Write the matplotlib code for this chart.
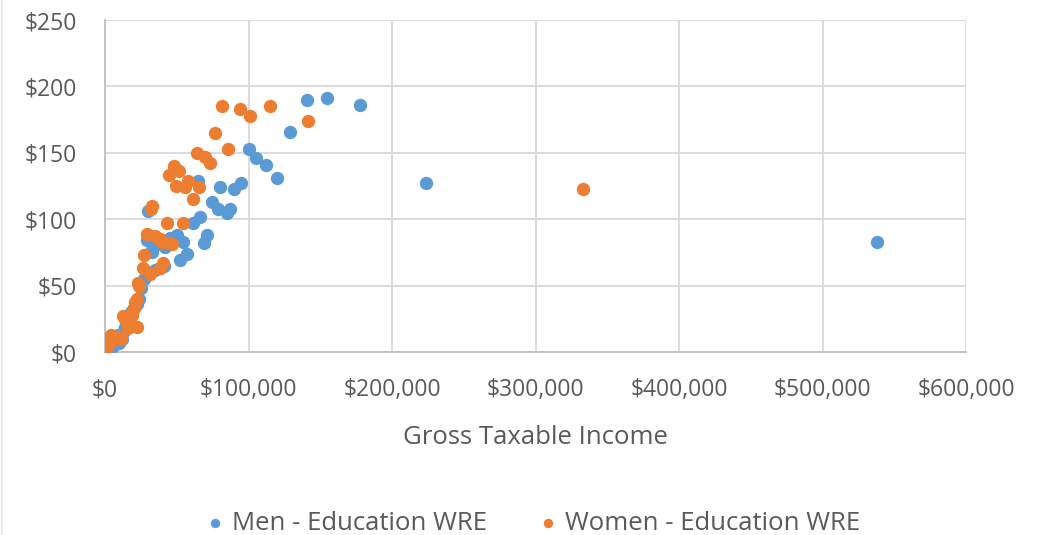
import matplotlib
matplotlib.use("Agg")
import matplotlib.pyplot as plt
from matplotlib.ticker import FuncFormatter

# Gross taxable income vs. weekly education WRE
men_income = [538000, 224000, 178000, 155000, 141000, 129000, 120000, 112000, 105000,
              100000, 95000, 90000, 80000, 87000, 85000, 79000, 74500, 71000, 69000,
              66000, 65000, 61000, 57000, 52000, 54000, 48000, 50000, 30000, 29000,
              33000, 36000, 39000, 42000, 45000, 35000, 38000, 41000, 33000, 25000,
              24000, 22000, 18000, 16000, 13000, 12000, 9000, 6000, 4000, 2000, 1500,
              7000, 10000, 14000, 20000, 27000]
men_wre = [83, 127, 186, 191, 190, 166, 131, 141, 146,
           153, 127, 123, 124, 108, 105, 108, 113, 88, 82,
           102, 129, 97, 74, 69, 83, 85, 88, 106, 84,
           77, 83, 81, 79, 86, 62, 63, 65, 75, 48,
           40, 36, 30, 24, 16, 10, 13, 5, 3, 2, 6,
           9, 7, 19, 33, 55]

women_income = [333000, 141500, 115000, 101000, 94000, 81500, 86000, 76500, 73000,
                70000, 64000, 61000, 65500, 58000, 56000, 51500, 48000, 44500, 49500,
                54000, 43000, 33000, 32000, 29000, 35000, 40000, 45000, 47000, 38000,
                27000, 40500, 38000, 26500, 31500, 23000, 24000, 21000, 20000, 22000,
                12500, 17500, 22000, 16000, 19000, 15000, 9000, 4000, 1500, 2000,
                6000, 11000, 14000]
women_wre = [123, 174, 185, 178, 183, 185, 153, 165, 142,
             147, 150, 115, 124, 129, 124, 136, 140, 133, 125,
             97, 97, 110, 108, 89, 87, 83, 82, 81, 85,
             73, 67, 63, 63, 59, 52, 50, 38, 33, 40,
             27, 23, 19, 18, 28, 21, 11, 13, 4, 7,
             9, 10, 25]

x_ticks = [0, 100000, 200000, 300000, 400000, 500000, 600000]
y_ticks = [0, 50, 100, 150, 200, 250]

series_names = ["Men - Education WRE", "Women - Education WRE"]
blue = "#5B9BD5"
orange = "#ED7D31"
text_gray = "#595959"
tick_size = 16.5
label_size = 18.5

plt.rcParams["font.family"] = ["Open Sans", "DejaVu Sans"]

fig = plt.figure(figsize=(10.48, 5.35), dpi=100)
ax = fig.add_axes([0.1002, 0.342, 0.8216, 0.6206])

ax.scatter(men_income, men_wre, s=92, color=blue, linewidths=0, zorder=3,
           label=series_names[0])
ax.scatter(women_income, women_wre, s=92, color=orange, linewidths=0, zorder=4,
           label=series_names[1])

ax.set_xlim(x_ticks[0], x_ticks[-1])
ax.set_ylim(y_ticks[0], y_ticks[-1])
ax.set_xticks(x_ticks)
ax.set_yticks(y_ticks)
ax.xaxis.set_major_formatter(FuncFormatter(lambda v, p: f"${v:,.0f}"))
ax.yaxis.set_major_formatter(FuncFormatter(lambda v, p: f"${v:,.0f}"))

ax.grid(True, color="#D9D9D9", linewidth=1.3, zorder=0)
ax.set_axisbelow(True)
for side in ["top", "right"]:
    ax.spines[side].set_visible(False)
for side in ["left", "bottom"]:
    ax.spines[side].set_color("#BFBFBF")
    ax.spines[side].set_linewidth(1.3)

ax.tick_params(axis="both", length=0, labelsize=tick_size, labelcolor=text_gray)
ax.tick_params(axis="y", pad=20)
ax.tick_params(axis="x", pad=19)

ax.set_xlabel("Gross Taxable Income", fontsize=label_size, color=text_gray, labelpad=16)

leg = fig.legend(loc="center", bbox_to_anchor=(0.508, 0.022), ncol=2, frameon=False,
                 fontsize=label_size, handlelength=0.8, handletextpad=0.25,
                 columnspacing=2.0, markerscale=0.7)
for t in leg.get_texts():
    t.set_color(text_gray)

# thin chart border on the left
fig.add_artist(plt.Line2D([0.0015, 0.0015], [0, 1], color="#E6E6E6", linewidth=1.2,
                          transform=fig.transFigure))

fig.savefig("out.png", dpi=100)
